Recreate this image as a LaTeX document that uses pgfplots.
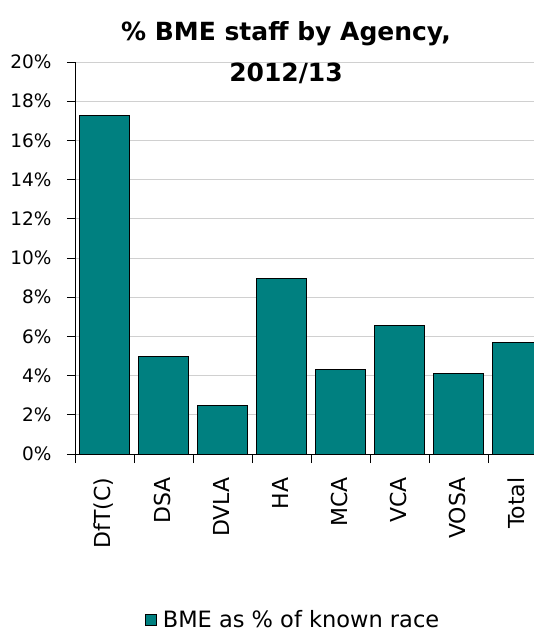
\documentclass[border=0pt]{standalone}
\usepackage{pgfplots}
\pgfplotsset{compat=1.18}
\usepackage{fontspec}
\setmainfont{DejaVu Sans}
\definecolor{barteal}{HTML}{008080}
\definecolor{gridgray}{HTML}{D0D0D0}

\begin{document}
\begin{tikzpicture}[x=1pt,y=1pt]
\useasboundingbox (0,0) rectangle (534,633);
\begin{axis}[
    at={(75pt,179pt)}, anchor=south west,
    scale only axis, width=459pt, height=392pt,
    xmin=-0.5, xmax=7.28, ymin=0, ymax=20,
    axis x line*=bottom, axis y line*=left,
    tick align=outside,
    /pgf/number format/assume math mode=true,
    ytick={0,2,...,20},
    yticklabel={\pgfmathprintnumber{\tick}\%},
    ymajorgrids, major grid style={draw=gridgray, line width=1pt},
    xtick={0,...,7},
    xticklabels={DfT(C),DSA,DVLA,HA,MCA,VCA,VOSA,Total},
    major x tick style={draw=none},
    minor xtick={-0.5,0.5,...,7.5},
    major tick length=8pt, minor tick length=9pt,
    every tick/.style={black, line width=0.8pt},
    axis line style={black, line width=0.8pt},
    x tick label style={rotate=90, anchor=east, xshift=-12pt, yshift=1pt, font=\fontsize{22}{26}\selectfont},
    y tick label style={anchor=east, xshift=-12pt, font=\fontsize{18.5}{22}\selectfont},
    legend style={draw=none, at={(axis description cs:0.475,-0.423)}, anchor=center,
        font=\fontsize{22.5}{27}\selectfont},
    legend image code/.code={\draw[fill=barteal, draw=black, line width=1pt] (0pt,-5.5pt) rectangle (11pt,5.5pt);},
]
\addplot[ybar, bar width=0.84, fill=barteal, draw=black, line width=1pt] coordinates {
    (0, 17.26)
    (1, 4.96)
    (2, 2.45)
    (3, 8.94)
    (4, 4.30)
    (5, 6.56)
    (6, 4.12)
    (7, 5.71)
};
\addlegendentry{\hspace{4pt}BME as \% of known race}
\end{axis}
\node[anchor=base, font=\bfseries\fontsize{25}{30}\selectfont] at (286,592) {\% BME staff by Agency,};
\node[anchor=base, font=\bfseries\fontsize{25}{30}\selectfont] at (286,551) {2012/13};
\end{tikzpicture}
\end{document}
